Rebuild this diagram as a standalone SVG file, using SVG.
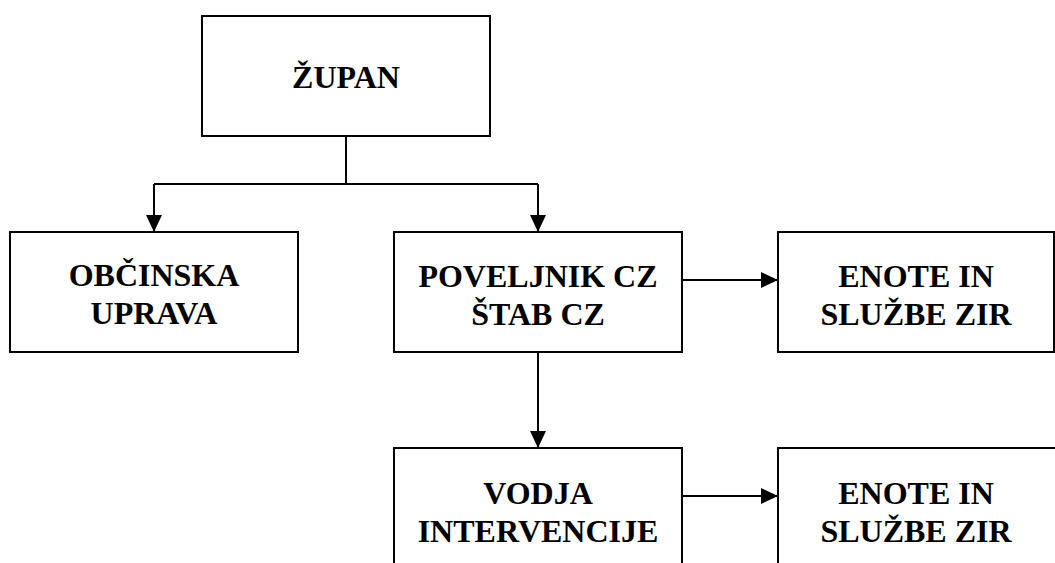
<svg xmlns="http://www.w3.org/2000/svg" width="1055" height="563" viewBox="0 0 1055 563">
<style>
.box{fill:#fff;stroke:#000;stroke-width:2}
.t{font-family:"Liberation Serif","Times New Roman",serif;font-weight:bold;font-size:32px;fill:#000;text-anchor:middle}
.c{fill:none;stroke:#000;stroke-width:2}
</style>
<defs>
<marker id="ah" markerUnits="userSpaceOnUse" markerWidth="17" markerHeight="16" refX="17" refY="8" orient="auto">
<path d="M0,0 L17,8 L0,16 Z" fill="#000"/>
</marker>
</defs>
<rect width="1055" height="563" fill="#fff"/>
<g id="zupan"><rect class="box" x="202" y="16" width="288" height="120"/><text class="t" x="346" y="88">ŽUPAN</text></g>
<g id="obcinska-uprava"><rect class="box" x="10" y="232" width="288" height="120"/><text class="t" x="154" y="286">OBČINSKA</text><text class="t" x="154" y="324">UPRAVA</text></g>
<g id="poveljnik"><rect class="box" x="394" y="232" width="288" height="120"/><text class="t" x="538" y="287">POVELJNIK CZ</text><text class="t" x="538" y="325">ŠTAB CZ</text></g>
<g id="enote1"><rect class="box" x="778" y="232" width="276" height="120"/><text class="t" x="916" y="287">ENOTE IN</text><text class="t" x="916" y="325">SLUŽBE ZIR</text></g>
<g id="vodja"><rect class="box" x="394" y="448" width="288" height="130"/><text class="t" x="538" y="504">VODJA</text><text class="t" x="538" y="542">INTERVENCIJE</text></g>
<g id="enote2"><rect class="box" x="778" y="448" width="300" height="130"/><text class="t" x="916" y="504">ENOTE IN</text><text class="t" x="916" y="542">SLUŽBE ZIR</text></g>
<g id="connectors">
<path class="c" d="M346,136 V184 M154,184 H538"/>
<path class="c" d="M154,184 V232" marker-end="url(#ah)"/>
<path class="c" d="M538,184 V232" marker-end="url(#ah)"/>
<path class="c" d="M682,280 H778" marker-end="url(#ah)"/>
<path class="c" d="M538,352 V448" marker-end="url(#ah)"/>
<path class="c" d="M682,496 H778" marker-end="url(#ah)"/>
</g>
</svg>
